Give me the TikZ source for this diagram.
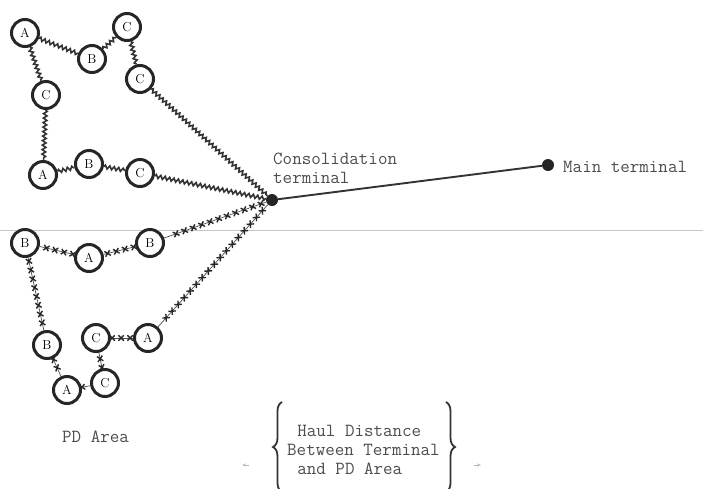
\documentclass[tikz,border=0pt]{standalone}
\usepackage{tikz}
\usetikzlibrary{arrows.meta, decorations.pathmorphing, decorations.markings, decorations.pathreplacing}

\begin{document}
\begin{tikzpicture}[
    x=1pt, y=-1pt,
    stop/.style={circle, draw=black!85, line width=3pt, fill=white, minimum size=27pt, inner sep=0pt, font=\rmfamily\fontsize{13}{13}\selectfont},
    hub/.style={circle, fill=black!85, minimum size=12pt, inner sep=0pt},
    lbl/.style={font=\ttfamily\fontsize{18.5}{19}\selectfont, text=black!70, align=left, inner sep=0pt},
    wavy/.style={decorate, decoration={snake, amplitude=1.8pt, segment length=4.5pt}, line width=1.6pt, black!80},
    crossed/.style={line width=0.7pt, black!70, postaction={decorate, decoration={markings, mark=between positions 0.05 and 0.96 step 9pt with {\draw[line width=1.4pt, black!85] (-2.7pt,-2.7pt) -- (2.7pt,2.7pt) (-2.7pt,2.7pt) -- (2.7pt,-2.7pt);}}}},
    trunk/.style={line width=1.9pt, black!80},
    bracket/.style={decorate, decoration={brace, amplitude=9pt}, line width=1.8pt, black!80},
    faint/.style={-{Stealth[length=4pt]}, gray!55, line width=1pt},
  ]
    \useasboundingbox (0,0) rectangle (703,488);
    \draw[gray!45, line width=1pt] (0,230) -- (703,230);

    \node[hub] (term) at (272,200) {};
    \node[hub] (main) at (548,165) {};

    \node[stop] (a1) at (25,33) {A};
    \node[stop] (b1) at (92,59) {B};
    \node[stop] (c1) at (127,27) {C};
    \node[stop] (c2) at (140,79) {C};
    \node[stop] (c3) at (46,95) {C};
    \node[stop] (a2) at (43,175) {A};
    \node[stop] (b2) at (89,164) {B};
    \node[stop] (c4) at (140,173) {C};

    \node[stop] (b3) at (25,243) {B};
    \node[stop] (a3) at (89,258) {A};
    \node[stop] (b4) at (150,243) {B};
    \node[stop] (b5) at (47,345) {B};
    \node[stop] (a4) at (67,390) {A};
    \node[stop] (c6) at (105,383) {C};
    \node[stop] (c5) at (96,338) {C};
    \node[stop] (a5) at (148,338) {A};

    \draw[wavy] (a1) -- (b1);
    \draw[wavy] (b1) -- (c1);
    \draw[wavy] (c1) -- (c2);
    \draw[wavy] (c2) -- (term);
    \draw[wavy] (a1) -- (c3);
    \draw[wavy] (c3) -- (a2);
    \draw[wavy] (a2) -- (b2);
    \draw[wavy] (b2) -- (c4);
    \draw[wavy] (c4) -- (term);

    \draw[crossed] (term) -- (b4);
    \draw[crossed] (b4) -- (a3);
    \draw[crossed] (a3) -- (b3);
    \draw[crossed] (b3) -- (b5);
    \draw[crossed] (b5) -- (a4);
    \draw[crossed] (a4) -- (c6);
    \draw[crossed] (c6) -- (c5);
    \draw[crossed] (c5) -- (a5);
    \draw[crossed] (term) -- (a5);

    \draw[trunk] (term) -- (main);

    \node[lbl, anchor=north west] (consol) at (273,153) {Consolidation\\terminal};
    \node[lbl, anchor=west] (mainlbl) at (563,167) {Main terminal};
    \node[lbl, anchor=west] (pd) at (62,437) {PD Area};
    \node[lbl, anchor=north west] (haul) at (287,425) {\hspace{0.55em}Haul Distance\\Between Terminal\\\hspace{0.55em}and PD Area};

    \draw[bracket] (282,492) -- (282,402);
    \draw[bracket] (446,402) -- (446,492);
    \coordinate (lt) at (249,465);
    \coordinate (rt) at (474,465);
    \draw[faint] (lt) -- ++(-7,0);
    \draw[faint] (rt) -- ++(7,0);
  \end{tikzpicture}
\end{document}
